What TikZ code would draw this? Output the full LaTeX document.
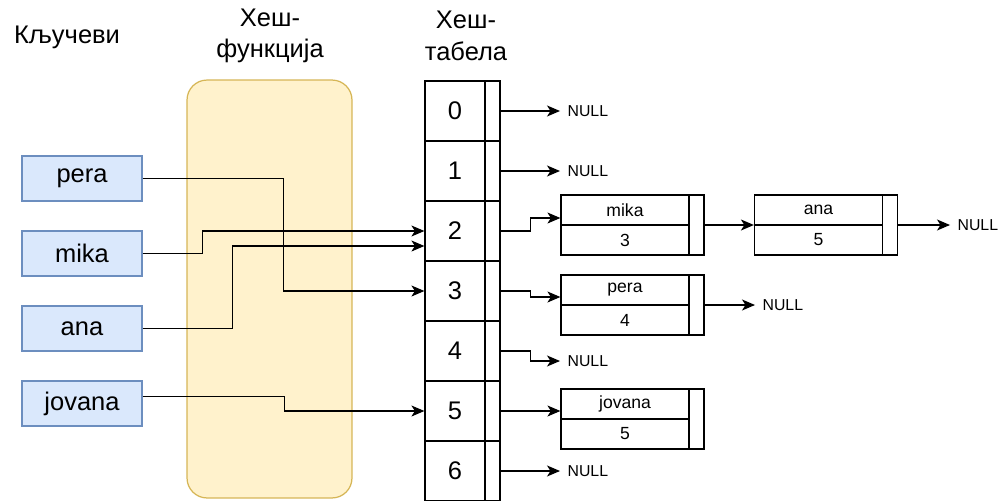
\documentclass[tikz,border=0pt]{standalone}
\usepackage{fontspec}
\setmainfont{Liberation Sans}
\usetikzlibrary{arrows.meta, calc}
\definecolor{keyfill}{HTML}{DAE8FC}
\definecolor{keyline}{HTML}{6C8EBF}
\definecolor{fnfill}{HTML}{FFF2CC}
\definecolor{fnline}{HTML}{D6B656}

\begin{document}
\begin{tikzpicture}[x=0.02cm,y=-0.02cm,line width=0.7pt,
  big/.style={font=\fontsize{14.5}{18}\selectfont},
  key/.style={big,draw=keyline,fill=keyfill,minimum width=2.4cm,minimum height=0.9cm,inner sep=0pt},
  cell/.style={big,draw,minimum width=1.2cm,minimum height=1.2cm,inner sep=0pt},
  ptr/.style={draw,minimum width=0.3cm,minimum height=1.2cm,inner sep=0pt},
  item/.style={draw,font=\fontsize{10}{12}\selectfont,minimum width=2.56cm,minimum height=0.6cm,inner sep=0pt},
  nul/.style={anchor=west,inner xsep=4pt,font=\fontsize{9}{11}\selectfont},
  link/.style={-{Stealth[length=0.26cm,width=0.22cm,inset=0.07cm]}}]
  \useasboundingbox (0,0) rectangle (1006,500);
  \node[big] (hkeys) at (67,37) {Кључеви};
  \node[big,align=center] (hfn) at (270,36) {Хеш-\\функција};
  \node[big,align=center] (htab) at (466,36) {Хеш-\\табела};
  \node[draw=fnline,fill=fnfill,rounded corners=0.4cm,minimum width=3.3cm,minimum height=8.36cm] (fn) at (269.5,289) {};
  \path (82,178.5) node[key] (pera) {pera} (82,253.5) node[key] (mika) {mika}
  (82,328.5) node[key] (ana) {ana} (82,403.5) node[key] (jovana) {jovana};
  \foreach \i in {0,...,6} {
    \node[cell] (c\i) at (455,{111+60*\i}) {\i};
    \node[ptr] (p\i) at (492.5,{111+60*\i}) {};
  }
  \foreach \w/\v/\x/\y in {mika/3/625/210,ana/5/818.5/210,pera/4/625/290,jovana/5/625/404} {
    \node[item] (\w-name) at ({\x},{\y}) {\w};
    \node[item] (\w-val) at ({\x},{\y+30}) {\v};
    \node[ptr] (\w-next) at ({\x+71.5},{\y+15}) {};
  }
  \draw[link] (pera.east) -- ++(141,0) |- (c3.west);
  \draw[link] (mika.east) -- ++(60,0) |- (c2.west);
  \draw[link] (ana.east) -- ++(90,0) |- ($(c2.west)+(0,15)$);
  \draw[link] ($(jovana.east)+(0,-7)$) -- ++(142,0) |- (c5.west);
  \foreach \i in {0,1,6} {
    \node[nul] (n\i) at (560,{111+60*\i}) {NULL};
    \draw[link] (p\i.east) -- (n\i.west);
  }
  \node[nul] (n4) at (560,361) {NULL};
  \node[nul] (nana) at (950,225) {NULL};
  \node[nul] (npera) at (755,305) {NULL};
  \draw[link] (p2.east) -- ++(30,0) |- ($(mika-name.west)+(0,8)$);
  \draw[link] (p3.east) -- ++(30,0) |- ($(pera-name.west)+(0,7)$);
  \draw[link] (p4.east) -- ++(30,0) |- (n4.west);
  \draw[link] (p5.east) -- ($(jovana-name.west)+(0,7)$);
  \draw[link] (mika-next.east) -- (mika-next.east -| ana-name.west);
  \draw[link] (ana-next.east) -- (nana.west);
  \draw[link] (pera-next.east) -- (npera.west);
\end{tikzpicture}
\end{document}
